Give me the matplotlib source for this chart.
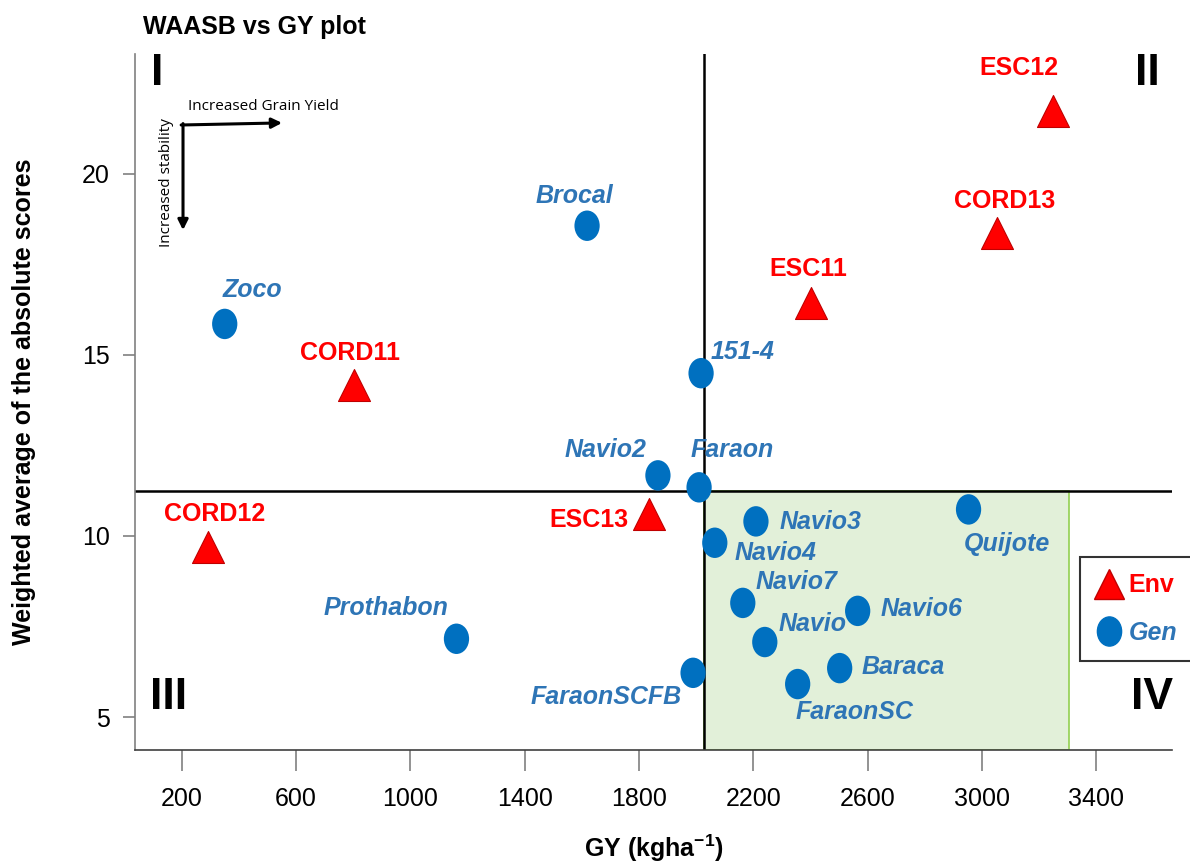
import matplotlib
matplotlib.use('Agg')
import matplotlib.pyplot as plt
import numpy as np
from matplotlib.path import Path
from matplotlib.patches import Rectangle
from matplotlib.lines import Line2D

plt.rcParams['font.family'] = ['Liberation Sans', 'DejaVu Sans']
plt.rcParams['mathtext.fontset'] = 'custom'
plt.rcParams['mathtext.bf'] = 'Liberation Sans:bold'
plt.rcParams['mathtext.rm'] = 'Liberation Sans:bold'
plt.rcParams['mathtext.default'] = 'bf'

# environments (triangles)
env_names = ['ESC12', 'CORD13', 'ESC11', 'CORD11', 'ESC13', 'CORD12']
env_gy = [3250, 3054, 2401, 801, 1835, 291]
env_waasb = [21.72, 18.37, 16.43, 14.16, 10.59, 9.68]

# genotypes (ellipses)
gen_names = ['Brocal', 'Zoco', '151-4', 'Navio2', 'Faraon', 'Navio3', 'Navio4',
             'Quijote', 'Navio7', 'Navio6', 'Navio', 'Prothabon', 'Baraca',
             'FaraonSCFB', 'FaraonSC']
gen_gy = [1618, 350, 2017, 1866, 2010, 2209, 2065,
          2953, 2163, 2565, 2240, 1161, 2502, 1989, 2355]
gen_waasb = [18.56, 15.85, 14.49, 11.67, 11.34, 10.40, 9.81,
             10.73, 8.15, 7.93, 7.07, 7.16, 6.35, 6.22, 5.91]

mean_gy = 2027
mean_waasb = 11.23
box_right = 3306

x_ticks = [200, 600, 1000, 1400, 1800, 2200, 2600, 3000, 3400]
y_ticks = [5, 10, 15, 20]

# label offsets in pixels (layout only)
env_off = [(-34, 43), (7, 32), (-2, 34), (-4, 32), (-60, -6), (7, 33)]
gen_off = [(-13, 30), (28, 34), (41, 21), (-52, 25), (33, 37), (65, -1), (61, -10),
           (38, -35), (54, 21), (64, 2), (48, 18), (-70, 31), (64, 1),
           (-87, -24), (57, -28)]

ENV_RED = '#ff0000'
GEN_FILL = '#0070c0'
GEN_TEXT = '#2e75b6'

circ = Path.unit_circle()
ellipse = Path(circ.vertices * np.array([0.83, 1.0]), circ.codes)

fig = plt.figure(figsize=(11.9, 8.67), dpi=100)
ax = fig.add_axes([135 / 1190, 117 / 867, 1037 / 1190, 696 / 867])

ax.set_xlim(36, 3665)
ax.set_ylim(4.09, 23.3)

ax.add_patch(Rectangle((mean_gy, 4.09), box_right - mean_gy, mean_waasb - 4.09,
                       facecolor='#e2f0d9', edgecolor='#92d050', lw=1.2, zorder=0))
ax.axvline(mean_gy, color='black', lw=1.8, zorder=1)
ax.axhline(mean_waasb, color='black', lw=1.8, zorder=1)

ax.scatter(env_gy, env_waasb, marker='^', s=530, color=ENV_RED,
           edgecolor='#c00000', linewidth=0.8, zorder=3)
ax.scatter(gen_gy, gen_waasb, marker=ellipse, s=480, color=GEN_FILL,
           edgecolor='none', zorder=3)

for name, x, y, off in zip(env_names, env_gy, env_waasb, env_off):
    ax.annotate(name, (x, y), xytext=off, textcoords='offset pixels',
                ha='center', va='center', fontsize=18, fontweight='bold',
                color=ENV_RED, zorder=4)
for name, x, y, off in zip(gen_names, gen_gy, gen_waasb, gen_off):
    ax.annotate(name, (x, y), xytext=off, textcoords='offset pixels',
                ha='center', va='center', fontsize=18, fontweight='bold',
                fontstyle='italic', color=GEN_TEXT, zorder=4)

# quadrant numbers
for txt, qx, qy in [('I', 0.021, 0.972), ('II', 0.976, 0.972),
                    ('III', 0.032, 0.076), ('IV', 0.981, 0.076)]:
    ax.text(qx, qy, txt, transform=ax.transAxes, ha='center', va='center',
            fontsize=32, fontweight='bold', color='black')

# direction arrows
ax.annotate('', xy=(0.1418, 0.901), xytext=(0.0445, 0.898), xycoords='axes fraction',
            arrowprops=dict(arrowstyle='-|>,head_length=0.6,head_width=0.3',
                            lw=2.2, color='black', shrinkA=0, shrinkB=0))
ax.annotate('', xy=(0.0463, 0.747), xytext=(0.0463, 0.900), xycoords='axes fraction',
            arrowprops=dict(arrowstyle='-|>,head_length=0.6,head_width=0.3',
                            lw=2.2, color='black', shrinkA=0, shrinkB=0))
ax.text(0.051, 0.925, 'Increased Grain Yield', transform=ax.transAxes,
        ha='left', va='center', fontsize=11, family=['Open Sans', 'DejaVu Sans'])
ax.text(0.030, 0.815, 'Increased stability', transform=ax.transAxes, rotation=90,
        ha='center', va='center', fontsize=11, family=['Open Sans', 'DejaVu Sans'])

ax.spines['top'].set_visible(False)
ax.spines['right'].set_visible(False)
ax.spines['left'].set_color('#808080')
ax.spines['bottom'].set_color('#404040')
ax.spines['left'].set_linewidth(1.2)
ax.spines['bottom'].set_linewidth(1.2)

ax.set_xticks(x_ticks)
ax.set_yticks(y_ticks)
ax.tick_params(axis='x', length=15, width=1.2, color='#808080', pad=12, labelsize=18)
ax.tick_params(axis='y', length=9, width=1.2, color='#808080', pad=9, labelsize=18)

ax.set_xlabel('GY (kgha$^{-1}$)', fontsize=18, fontweight='bold', labelpad=15)
ax.set_ylabel('Weighted average of the absolute scores', fontsize=18,
              fontweight='bold', labelpad=33)

fig.text(143 / 1190, 1 - 27 / 867, 'WAASB vs GY plot', ha='left', va='center',
         fontsize=18, fontweight='bold')

handles = [Line2D([], [], marker='^', color=ENV_RED, markeredgecolor='#c00000',
                  markersize=22, linestyle='none'),
           Line2D([], [], marker=ellipse, color=GEN_FILL, markersize=21,
                  linestyle='none')]
leg = fig.legend(handles, ['Env', 'Gen'], loc='upper left',
                 bbox_to_anchor=(1080 / 1190, 1 - 557 / 867), borderaxespad=0,
                 frameon=True, fancybox=False, edgecolor='black', handlelength=1.0,
                 handletextpad=0.3, borderpad=0.65, labelspacing=0.95, fontsize=18)
leg.get_frame().set_linewidth(1.5)
t_env, t_gen = leg.get_texts()
t_env.set_color(ENV_RED)
t_env.set_fontweight('bold')
t_gen.set_color(GEN_TEXT)
t_gen.set_fontweight('bold')
t_gen.set_fontstyle('italic')

fig.savefig('out.png', dpi=100)
